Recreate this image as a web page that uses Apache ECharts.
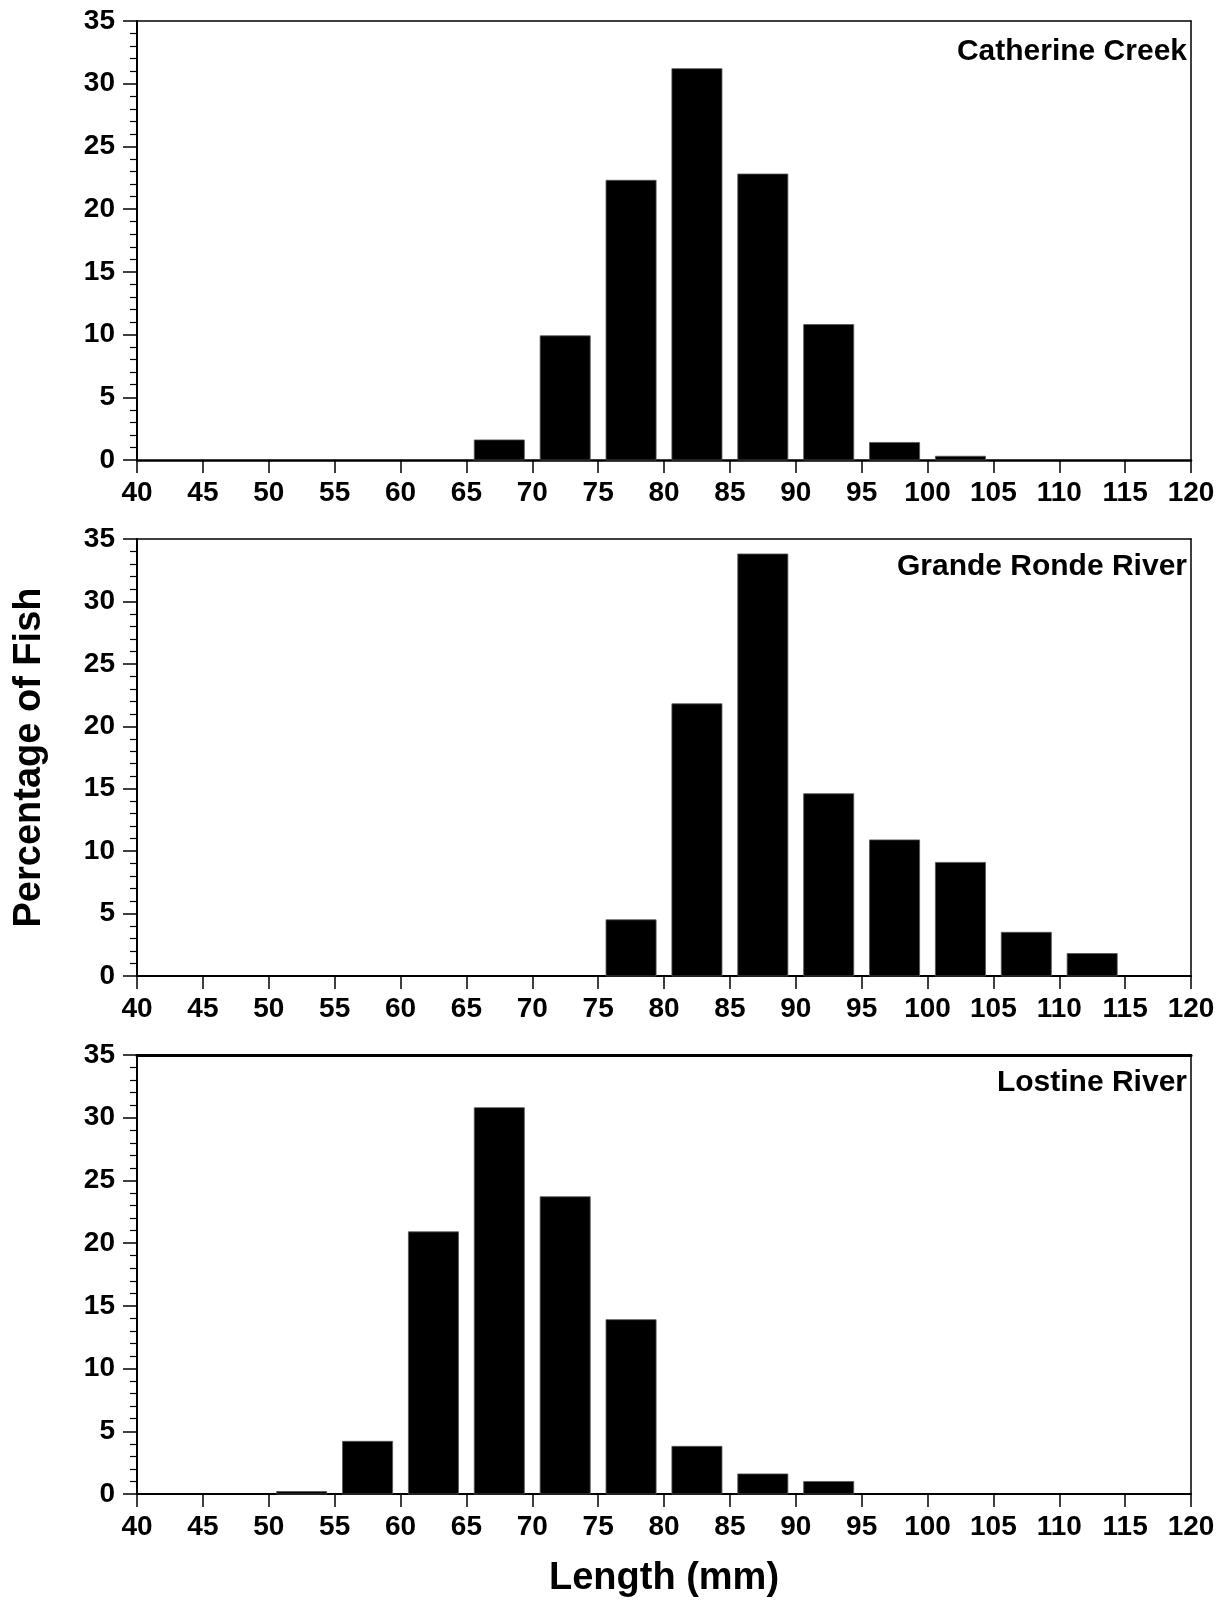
<!DOCTYPE html>
<html>
<head>
<meta charset="utf-8">
<script src="https://cdn.jsdelivr.net/npm/echarts@6/dist/echarts.min.js"></script>
<style>
html,body{margin:0;padding:0;background:#fff;}
#main{width:1225px;height:1602px;}
</style>
</head>
<body>
<div id="main"></div>
<script>
// ---- data ----
const panelNames = ['Catherine Creek', 'Grande Ronde River', 'Lostine River'];
const xTicks = [40,45,50,55,60,65,70,75,80,85,90,95,100,105,110,115,120];
const yTicks = [0,5,10,15,20,25,30,35];
const binWidth = 5;
const catherineBinStarts = [65, 70, 75, 80, 85, 90, 95, 100];
const catherineValues    = [1.6, 9.9, 22.3, 31.2, 22.8, 10.8, 1.4, 0.3];
const grandeRondeBinStarts = [75, 80, 85, 90, 95, 100, 105, 110];
const grandeRondeValues    = [4.5, 21.8, 33.8, 14.6, 10.9, 9.1, 3.5, 1.8];
const lostineBinStarts = [50, 55, 60, 65, 70, 75, 80, 85, 90];
const lostineValues    = [0.2, 4.2, 20.9, 30.8, 23.7, 13.9, 3.8, 1.6, 1.0];

const font = '"Liberation Sans", Arial, Helvetica, sans-serif';
const chart = echarts.init(document.getElementById('main'), null, {renderer: 'canvas'});

const grids = [
  {left: 137, right: 34, top: 21, height: 439},
  {left: 137, right: 34, top: 539, height: 437},
  {left: 137, right: 34, top: 1055, height: 439}
];
const topWidths = [1.5, 1.5, 3];
const bottomWidths = [2.5, 2, 2];

function xAxisFor(i) {
  return {
    type: 'value', gridIndex: i, min: xTicks[0], max: xTicks[xTicks.length - 1], interval: 5,
    axisLine: {show: true, onZero: false, lineStyle: {color: '#000', width: bottomWidths[i]}},
    axisTick: {show: true, inside: false, length: 13, lineStyle: {color: '#000', width: 1.5}},
    minorTick: {show: false},
    splitLine: {show: false},
    axisLabel: {show: true, margin: 19, color: '#000', fontFamily: font, fontWeight: 'bold', fontSize: 28,
      showMinLabel: true, showMaxLabel: true},
    name: i === 2 ? 'Length (mm)' : '',
    nameLocation: 'middle', nameGap: 66,
    nameTextStyle: {color: '#000', fontFamily: font, fontWeight: 'bold', fontSize: 38}
  };
}
function xTopFor(i) {
  return {
    type: 'value', gridIndex: i, position: 'top', min: xTicks[0], max: xTicks[xTicks.length - 1],
    axisLine: {show: true, onZero: false, lineStyle: {color: '#000', width: topWidths[i]}},
    axisTick: {show: false}, axisLabel: {show: false}, splitLine: {show: false}
  };
}
function yAxisFor(i) {
  return {
    type: 'value', gridIndex: i, min: yTicks[0], max: yTicks[yTicks.length - 1], interval: 5,
    axisLine: {show: true, lineStyle: {color: '#000', width: 2}},
    axisTick: {show: true, inside: false, length: 14, lineStyle: {color: '#000', width: 1.5}},
    minorTick: {show: true, splitNumber: 5, length: 7, lineStyle: {color: '#000', width: 1.2}},
    splitLine: {show: false},
    axisLabel: {show: true, margin: 22, color: '#000', fontFamily: font, fontWeight: 'bold', fontSize: 28},
    name: i === 1 ? 'Percentage of Fish' : '',
    nameLocation: 'middle', nameGap: 88,
    nameTextStyle: {color: '#000', fontFamily: font, fontWeight: 'bold', fontSize: 38}
  };
}
function yRightFor(i) {
  return {
    type: 'value', gridIndex: i, position: 'right', min: yTicks[0], max: yTicks[yTicks.length - 1],
    axisLine: {show: true, lineStyle: {color: '#000', width: 1.5}},
    axisTick: {show: false}, axisLabel: {show: false}, splitLine: {show: false}
  };
}

function barSeries(i, starts, values) {
  return {
    type: 'custom',
    xAxisIndex: i * 2, yAxisIndex: i * 2,
    data: starts.map((s, k) => [s, values[k]]),
    renderItem: function (params, api) {
      const start = api.value(0);
      const v = api.value(1);
      const gapFrac = 0.12;
      const p0 = api.coord([start + binWidth * gapFrac, v]);
      const p1 = api.coord([start + binWidth * (1 - gapFrac), 0]);
      return {
        type: 'rect',
        shape: {x: p0[0], y: p0[1], width: p1[0] - p0[0], height: p1[1] - p0[1]},
        style: {fill: '#000', stroke: '#555', lineWidth: 0.8}
      };
    },
    z: 1
  };
}

const xAxes = [], yAxes = [];
for (let i = 0; i < 3; i++) {
  xAxes.push(xAxisFor(i)); xAxes.push(xTopFor(i));
  yAxes.push(yAxisFor(i)); yAxes.push(yRightFor(i));
}

const labelTops = [37, 552, 1068];
const option = {
  backgroundColor: '#fff',
  animation: false,
  grid: grids,
  xAxis: xAxes,
  yAxis: yAxes,
  title: panelNames.map((n, i) => ({
    text: n, right: 38, top: labelTops[i], padding: 0,
    textStyle: {color: '#000', fontFamily: font, fontWeight: 'bold', fontSize: 30}
  })),
  series: [
    barSeries(0, catherineBinStarts, catherineValues),
    barSeries(1, grandeRondeBinStarts, grandeRondeValues),
    barSeries(2, lostineBinStarts, lostineValues)
  ]
};
chart.setOption(option);
</script>
</body>
</html>
